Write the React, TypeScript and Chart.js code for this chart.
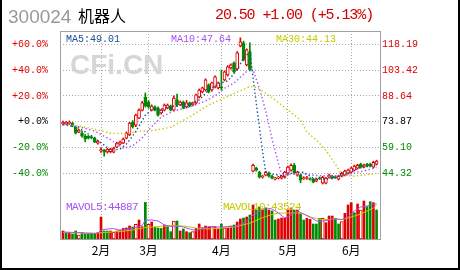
import React, { useEffect, useRef } from 'react';
import { Chart, registerables } from 'chart.js';

Chart.register(...registerables);

// ---------------- data ----------------
const stockCode = '300024';
const stockName = '机器人';
const quoteText = '20.50 +1.00 (+5.13%)';
const basePrice = 73.87;
const priceTicks = [44.32, 59.1, 73.87, 88.64, 103.42, 118.19];
const monthStarts = [12, 27, 50, 71, 91];
const monthNames = ['2月', '3月', '4月', '5月', '6月'];

const opens = [72.5, 72.6, 72.8, 73.0, 70.8, 67.9, 67.3, 65.6, 65.4, 65.2,
  64.4, 61.6, 57.1, 57.5, 56.5, 56.6, 56.4, 59.3, 61.0, 61.6,
  64.4, 66.2, 73.6, 71.9, 75.9, 80.5, 88.0, 85.1, 80.5, 82.3,
  81.7, 78.8, 80.5, 81.7, 82.8, 80.5, 86.3, 83.4, 85.1, 82.3,
  84.6, 83.4, 84.6, 88.0, 90.9, 92.0, 94.9, 92.0, 93.7, 93.2,
  93.8, 97.8, 100.6, 104.7, 107.6, 104.1, 117.3, 119.0, 106.4, 113.9,
  45.5, 47.2, 44.9, 42.0, 43.2, 44.3, 42.6, 40.9, 41.5, 41.5,
  42.0, 44.3, 46.1, 48.9, 43.2, 43.2, 41.2, 41.3, 41.2, 40.9,
  39.8, 41.7, 38.6, 38.6, 42.0, 42.6, 42.3, 40.9, 42.6, 43.2,
  44.3, 44.9, 46.1, 47.2, 49.5, 47.8, 49.5, 49.5, 47.8, 49.5];

const highs = [74.2, 74.0, 74.3, 73.5, 71.0, 69.5, 68.5, 66.5, 66.0, 65.8,
  65.0, 63.2, 59.0, 58.0, 58.5, 58.6, 59.3, 62.2, 62.8, 64.5,
  68.0, 73.5, 74.5, 78.2, 81.2, 85.5, 90.3, 86.0, 83.5, 83.0,
  82.3, 81.0, 84.0, 84.0, 83.4, 88.6, 89.7, 85.7, 85.7, 86.0,
  85.1, 85.1, 89.7, 92.6, 93.7, 98.4, 95.5, 96.6, 100.1, 96.6,
  103.5, 103.0, 106.0, 107.0, 108.2, 114.0, 121.9, 120.0, 115.6, 119.0,
  49.5, 47.8, 45.5, 43.2, 45.5, 44.9, 43.2, 42.0, 42.5, 43.2,
  45.5, 48.4, 49.7, 50.0, 45.5, 43.8, 42.3, 42.5, 41.7, 41.4,
  41.4, 42.2, 42.6, 42.0, 43.8, 43.2, 42.8, 43.2, 44.9, 46.1,
  46.7, 47.8, 49.0, 49.5, 50.1, 49.5, 50.0, 50.1, 51.2, 51.8];

const lows = [72.0, 72.2, 72.3, 70.9, 66.8, 67.5, 65.0, 62.3, 63.9, 64.0,
  61.8, 61.0, 56.3, 54.1, 55.8, 56.0, 56.0, 59.0, 60.5, 61.2,
  64.0, 65.8, 70.2, 71.0, 75.5, 80.0, 82.2, 81.5, 80.0, 80.0,
  77.0, 78.2, 80.0, 81.2, 80.0, 80.0, 82.5, 83.0, 81.2, 81.7,
  82.3, 83.0, 84.0, 87.4, 90.3, 91.4, 90.3, 91.4, 93.2, 92.6,
  92.0, 97.2, 100.0, 104.0, 101.8, 103.5, 116.7, 108.7, 105.8, 102.9,
  45.0, 45.5, 41.5, 41.5, 42.8, 42.0, 41.0, 40.5, 41.0, 41.0,
  41.5, 43.8, 45.5, 43.8, 42.6, 38.8, 40.7, 40.8, 40.3, 38.8,
  39.5, 40.8, 38.1, 38.2, 41.5, 41.0, 41.3, 40.4, 42.2, 42.8,
  43.8, 44.4, 45.6, 46.7, 47.2, 47.3, 47.9, 47.9, 47.3, 49.0];

const closes = [73.6, 73.5, 73.6, 71.3, 67.3, 69.0, 65.6, 63.9, 64.4, 64.5,
  62.1, 62.7, 57.8, 56.4, 58.0, 58.1, 58.7, 61.6, 62.2, 63.9,
  67.3, 73.0, 70.8, 77.6, 80.5, 84.6, 82.8, 82.3, 82.8, 80.5,
  77.6, 80.5, 83.4, 83.4, 80.5, 87.4, 83.4, 85.1, 81.7, 84.6,
  82.8, 84.6, 89.2, 92.0, 93.2, 97.8, 90.9, 96.1, 99.5, 96.1,
  93.0, 102.4, 105.3, 106.4, 102.4, 113.3, 119.6, 109.3, 115.0, 103.5,
  48.9, 46.1, 42.0, 42.6, 44.9, 42.6, 41.5, 41.5, 42.0, 42.6,
  44.9, 47.8, 48.9, 44.3, 44.9, 40.3, 41.7, 41.8, 40.7, 39.2,
  40.9, 41.2, 42.0, 41.5, 43.2, 41.5, 41.8, 42.6, 44.3, 45.5,
  46.1, 47.2, 48.4, 48.9, 47.8, 48.9, 48.4, 48.4, 50.6, 51.2];

const volumes = [10260, 7690, 8330, 6410, 10260, 5130, 8330, 6410, 7050, 6790,
  6410, 8460, 28200, 10260, 10260, 10260, 8460, 10260, 11540, 13590,
  14100, 16670, 15380, 18720, 24360, 15770, 46920, 18720, 21790, 14870,
  14100, 13590, 17950, 15770, 9360, 23080, 23080, 10260, 12820, 9360,
  8080, 9360, 13590, 19230, 14490, 16670, 14870, 15770, 15770, 12820,
  19230, 14100, 14100, 16670, 17950, 21790, 25640, 26920, 28200, 30770,
  43590, 38460, 41020, 38460, 39740, 37180, 35900, 24360, 25640, 26920,
  26920, 37180, 39740, 37180, 37180, 32950, 24360, 26540, 25260, 19230,
  19230, 26540, 26540, 20900, 29490, 29490, 26540, 19230, 22180, 32950,
  43590, 46540, 33720, 44870, 37180, 48720, 41410, 47820, 46540, 37180];

// r = red filled, h = red hollow, g = green
const volumeKinds =
  'rgrgghgggg' + 'grrggrhrrr' + 'rrghrrghrg' + 'ggrgghgrgr' + 'ghrrrrrhrr' +
  'ghrrgrrgrg' + 'rggrgrggrr' + 'rrrgrggrrg' + 'gghrrrgghr' + 'rrgrhrggrg';

const ma5Days = [0, 5, 8, 10, 13, 15, 18, 20, 22, 24, 26, 28, 31, 35, 40, 43, 46, 49, 52, 55, 57, 59, 60, 61, 62, 63, 64, 66, 70, 73, 76, 79, 83, 86, 90, 94, 99];
const ma5Values = [72.5, 70.2, 66.8, 64.4, 60.4, 57.5, 58.1, 61.0, 65.6, 71.3, 77.6, 80.5, 81.1, 82.8, 84.0, 86.3, 92.0, 95.5, 97.2, 103.5, 110.4, 113.9, 99.3, 84.6, 71.1, 56.6, 44.9, 43.8, 42.6, 44.9, 44.9, 41.5, 40.9, 42.0, 44.3, 47.8, 49.01];

const ma10Days = [0, 5, 10, 15, 19, 22, 25, 28, 31, 35, 40, 45, 48, 51, 54, 57, 59, 60, 62, 64, 66, 67, 68, 69, 72, 76, 80, 85, 89, 93, 96, 99];
const ma10Values = [72.0, 71.0, 68.5, 63.5, 58.7, 60.0, 64.5, 71.0, 76.5, 80.0, 82.3, 85.7, 88.6, 93.0, 96.0, 101.0, 104.5, 103.5, 93.0, 80.0, 64.0, 57.0, 50.0, 44.0, 43.8, 43.8, 43.0, 42.6, 43.0, 44.9, 46.1, 47.64];

const ma30Days = [3, 9, 15, 20, 24, 28, 34, 40, 46, 53, 59, 61, 63, 67, 71, 75, 77, 80, 83, 86, 88, 92, 96, 99];
const ma30Values = [71.9, 70.0, 67.2, 67.0, 68.3, 68.8, 70.6, 76.7, 83.4, 89.2, 94.0, 93.5, 91.4, 86.3, 80.5, 74.8, 67.9, 63.3, 57.5, 49.5, 43.5, 42.6, 43.5, 44.13];

const mavol5Days = [0, 4, 8, 11, 12, 14, 16, 18, 20, 23, 25, 26, 28, 30, 32, 34, 36, 38, 40, 42, 44, 46, 48, 50, 52, 54, 56, 58, 60, 62, 64, 66, 68, 70, 72, 74, 76, 78, 80, 82, 84, 86, 88, 90, 92, 94, 96, 98, 99];
const mavol5Values = [8970, 8330, 7440, 7050, 11540, 12820, 13460, 10900, 12180, 14740, 17310, 24360, 24360, 23080, 17950, 16030, 16670, 15380, 12820, 10900, 12820, 16030, 15380, 15380, 16030, 16030, 17950, 23080, 30770, 35900, 39740, 38460, 33330, 26920, 30770, 35900, 32050, 28200, 23080, 23080, 24360, 25640, 25000, 28200, 35900, 41020, 42310, 44870, 44887];

const mavol10Days = [0, 5, 10, 13, 18, 22, 26, 30, 34, 38, 42, 46, 50, 54, 58, 60, 62, 64, 66, 68, 70, 72, 74, 76, 78, 80, 82, 84, 86, 88, 90, 92, 94, 96, 98, 99];
const mavol10Values = [8330, 7690, 7440, 8330, 9620, 11540, 14740, 16030, 17310, 16670, 14100, 12820, 14100, 15380, 19230, 21790, 25640, 28850, 31410, 33330, 33330, 33330, 33330, 32050, 28200, 26280, 25000, 25000, 25640, 25000, 26920, 29490, 32050, 35900, 39740, 43524];

// ---------------- styles ----------------
const RED = '#e00000';
const GREEN = '#008a00';
const MA5C = '#134e9c';
const MA10C = '#a550f5';
const MA30C = '#c8c800';
const GRIDC = '#a8a8a8';
const MONO = '"Liberation Mono", "DejaVu Sans Mono", monospace';

export default function App() {
  const ref = useRef<HTMLCanvasElement>(null);

  useEffect(() => {
    const canvas = ref.current;
    if (!canvas) return;
    const idx = opens.map((_, i) => i);
    const up = idx.map((i) => closes[i] >= opens[i]);
    const filledIdx = idx.filter((i) => volumeKinds[i] !== 'h');
    const hollowIdx = idx.filter((i) => volumeKinds[i] === 'h');
    const pts = (days: number[], vals: number[]) => days.map((d, k) => ({ x: d, y: vals[k] }));
    const last = (a: number[]) => a[a.length - 1];

    const pctLabel = (v: number) => {
      const r = Math.round((v / basePrice - 1) * 1000) / 10;
      return (r >= 0 ? '+' : '-') + Math.abs(r).toFixed(1) + '%';
    };
    const tickColor = (ctx: any) => {
      const v = ctx.tick ? ctx.tick.value : 0;
      if (Math.abs(v - basePrice) < 0.01) return '#000';
      return v > basePrice ? RED : GREEN;
    };

    const pxPerUnit = 1.745;
    const yMax = 118.19 + 13.3 / pxPerUnit;
    const yMin = yMax - 208 / pxPerUnit;
    const volMax = 208 * 1282;

    const decor = {
      id: 'decor',
      beforeDatasetsDraw(chart: any) {
        const c = chart.ctx;
        c.save();
        c.font = 'bold 28px "Liberation Sans", Arial, sans-serif';
        c.fillStyle = '#d6d6d6';
        c.textBaseline = 'alphabetic';
        c.fillText('CFi.CN', 70, 74);
        c.restore();
      },
      afterDraw(chart: any) {
        const c = chart.ctx;
        const a = chart.chartArea;
        c.save();
        c.strokeStyle = '#a0a0a0';
        c.lineWidth = 1;
        c.strokeRect(Math.round(a.left) + 0.5, Math.round(a.top) + 0.5,
          Math.round(a.right - a.left) - 1, Math.round(a.bottom - a.top));
        c.textBaseline = 'alphabetic';
        c.font = '10px ' + MONO;
        c.fillStyle = MA5C;
        c.fillText('MA5:' + last(ma5Values).toFixed(2), 66, 42);
        c.fillStyle = MA10C;
        c.fillText('MA10:' + last(ma10Values).toFixed(2), 171, 42);
        c.fillStyle = MA30C;
        c.fillText('MA30:' + last(ma30Values).toFixed(2), 276, 42);
        c.font = '11px ' + MONO;
        (c as any).letterSpacing = '-0.6px';
        c.fillStyle = MA10C;
        c.fillText('MAVOL5:' + Math.round(last(mavol5Values)), 66, 210);
        c.fillStyle = MA30C;
        c.fillText('MAVOL10:' + Math.round(last(mavol10Values)), 223, 210);
        (c as any).letterSpacing = '0px';
        c.fillStyle = '#000';
        c.fillRect(0, 0, 2, 270);
        c.fillRect(458, 0, 2, 270);
        c.fillRect(0, 268, 460, 2);
        c.restore();
      },
    };

    const lineDs = (label: string, days: number[], vals: number[], color: string, axis: string, dotted: boolean, order: number) => ({
      type: 'line' as const,
      label,
      data: pts(days, vals),
      borderColor: color,
      borderWidth: dotted ? 1.4 : 1,
      borderDash: dotted ? [1.4, 2.4] : [],
      pointRadius: 0,
      tension: 0,
      fill: false,
      yAxisID: axis,
      order,
    });

    const chart = new Chart(canvas, {
      type: 'bar',
      data: {
        datasets: [
          lineDs('MA5', ma5Days, ma5Values, MA5C, 'y', true, 0),
          lineDs('MA10', ma10Days, ma10Values, MA10C, 'y', true, 1),
          lineDs('MA30', ma30Days, ma30Values, MA30C, 'y', true, 2),
          {
            type: 'bar',
            label: 'body',
            data: idx.map((i) => ({ x: i, y: [opens[i], closes[i]] })),
            backgroundColor: idx.map((i) => (up[i] ? '#ffffff' : GREEN)),
            borderColor: idx.map((i) => (up[i] ? RED : GREEN)),
            borderWidth: 1,
            borderSkipped: false,
            barThickness: 3,
            grouped: false,
            yAxisID: 'y',
            order: 3,
          } as any,
          {
            type: 'bar',
            label: 'wick',
            data: idx.map((i) => ({ x: i, y: [lows[i], highs[i]] })),
            backgroundColor: idx.map((i) => (up[i] ? RED : GREEN)),
            borderWidth: 0,
            barThickness: 1,
            grouped: false,
            yAxisID: 'y',
            order: 4,
          } as any,
          lineDs('MAVOL5', mavol5Days, mavol5Values, MA10C, 'yv', false, 1),
          lineDs('MAVOL10', mavol10Days, mavol10Values, MA30C, 'yv', false, 1),
          {
            type: 'bar',
            label: 'vol',
            data: filledIdx.map((i) => ({ x: i, y: volumes[i] })),
            backgroundColor: filledIdx.map((i) => (volumeKinds[i] === 'g' ? GREEN : RED)),
            borderWidth: 0,
            barThickness: 2,
            grouped: false,
            yAxisID: 'yv',
            order: 5,
          } as any,
          {
            type: 'bar',
            label: 'volHollow',
            data: hollowIdx.map((i) => ({ x: i, y: volumes[i] })),
            backgroundColor: '#ffffff',
            borderColor: RED,
            borderWidth: 1,
            borderSkipped: false,
            barThickness: 3,
            grouped: false,
            yAxisID: 'yv',
            order: 5,
          } as any,
        ],
      },
      options: {
        responsive: false,
        animation: false,
        devicePixelRatio: 1,
        events: [],
        layout: { padding: { top: 31, left: 0, right: 0, bottom: 0 } },
        plugins: { legend: { display: false }, tooltip: { enabled: false } },
        scales: {
          x: {
            type: 'linear',
            min: -0.95,
            max: 100.4,
            offset: false,
            afterBuildTicks: (s: any) => { s.ticks = monthStarts.map((v) => ({ value: v })); },
            afterFit: (s: any) => { s.height = 31; },
            grid: { color: GRIDC, lineWidth: 1, drawTicks: false, offset: false },
            border: { display: false, dash: [1, 2] },
            ticks: {
              autoSkip: false,
              maxRotation: 0,
              padding: 4,
              color: '#000',
              font: { family: '"Noto Sans CJK SC", sans-serif', size: 12 },
              callback: (v: any) => {
                const k = monthStarts.indexOf(Number(v));
                return k >= 0 ? monthNames[k] : '';
              },
            },
          },
          y: {
            type: 'linear',
            position: 'left',
            min: yMin,
            max: yMax,
            afterBuildTicks: (s: any) => { s.ticks = priceTicks.map((v) => ({ value: v })); },
            afterFit: (s: any) => { s.width = 60; },
            grid: { color: GRIDC, lineWidth: 1, drawTicks: false },
            border: { display: false, dash: [1, 2] },
            ticks: {
              padding: 12,
              color: tickColor,
              font: { family: MONO, size: 10 },
              callback: (v: any) => pctLabel(Number(v)),
            },
          },
          y2: {
            type: 'linear',
            position: 'right',
            min: yMin,
            max: yMax,
            afterBuildTicks: (s: any) => { s.ticks = priceTicks.map((v) => ({ value: v })); },
            afterFit: (s: any) => { s.width = 79; },
            grid: { display: false, drawTicks: false },
            border: { display: false },
            ticks: {
              padding: 1,
              color: tickColor,
              font: { family: MONO, size: 10 },
              callback: (v: any) => Number(v).toFixed(2),
            },
          },
          yv: {
            type: 'linear',
            display: false,
            min: 0,
            max: volMax,
          },
        },
      } as any,
      plugins: [decor],
    });
    return () => chart.destroy();
  }, []);

  return (
    <div style={{ position: 'fixed', left: 0, top: 0, width: 460, height: 270, background: '#fff', overflow: 'hidden' }}>
      <canvas ref={ref} width={460} height={270} style={{ position: 'absolute', left: 0, top: 0, width: 460, height: 270 }} />
      <div style={{ position: 'absolute', left: 8, top: 7, font: '19px "Liberation Sans", Arial, sans-serif', lineHeight: '19px', color: '#999', whiteSpace: 'nowrap' }}>{stockCode}</div>
      <div style={{ position: 'absolute', left: 78, top: 7, font: '16px "Noto Sans CJK SC", sans-serif', lineHeight: '16px', color: '#000', whiteSpace: 'nowrap' }}>{stockName}</div>
      <div style={{ position: 'absolute', left: 215, top: 8, font: '15px ' + MONO, lineHeight: '15px', letterSpacing: '-1.1px', color: '#d40000', whiteSpace: 'nowrap' }}>{quoteText}</div>
    </div>
  );
}
